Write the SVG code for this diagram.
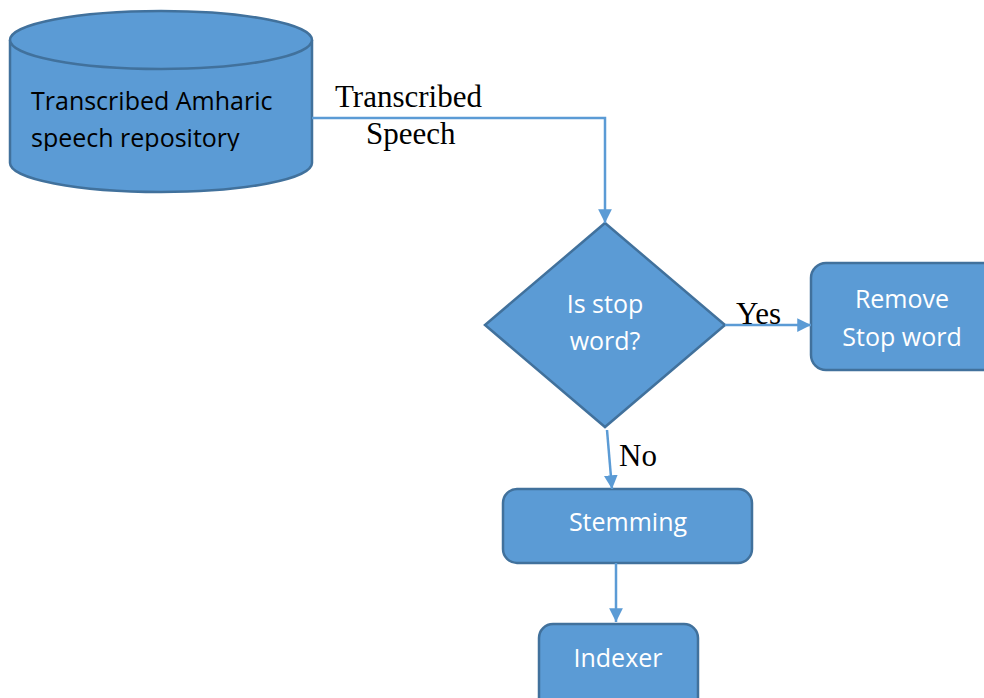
<svg xmlns="http://www.w3.org/2000/svg" width="984" height="698" viewBox="0 0 984 698">
<style>
.shape{fill:#5B9BD5;stroke:#41719C;stroke-width:2.5}
.wt{font-family:"Open Sans","Liberation Sans",sans-serif;font-size:25px;fill:#fff;text-anchor:middle}
.bt{font-family:"Open Sans","Liberation Sans",sans-serif;font-size:25px;fill:#000}
.lbl{font-family:"Liberation Serif",serif;font-size:31px;fill:#000}
.conn{fill:none;stroke:#5B9BD5;stroke-width:2.5}
</style>
<defs>
<marker id="ah" viewBox="0 0 10 10" refX="10" refY="5" markerWidth="5.5" markerHeight="5.5" orient="auto" markerUnits="strokeWidth">
<path d="M0,0 L10,5 L0,10 z" fill="#5B9BD5"/>
</marker>
<clipPath id="cl"><rect x="0" y="0" width="320" height="151"/></clipPath>
</defs>
<rect width="984" height="698" fill="#fff"/>
<g id="repository">
<path class="shape" d="M10,40 L10,163 A151,29 0 0 0 312,163 L312,40"/>
<ellipse class="shape" cx="161" cy="40" rx="151" ry="29"/>
<g clip-path="url(#cl)">
<text class="bt" x="31" y="110">Transcribed Amharic</text>
<text class="bt" x="31" y="147">speech repository</text>
</g>
</g>
<g id="decision">
<polygon class="shape" points="605,223 725,325 605,427 485,325"/>
<text class="wt" x="605" y="313">Is stop</text>
<text class="wt" x="605" y="350">word?</text>
</g>
<g id="remove">
<rect class="shape" x="811" y="263" width="190" height="107" rx="15"/>
<text class="wt" x="902" y="308">Remove</text>
<text class="wt" x="902" y="346">Stop word</text>
</g>
<g id="stemming">
<rect class="shape" x="503" y="489" width="249" height="74" rx="14"/>
<text class="wt" x="628" y="531">Stemming</text>
</g>
<g id="indexer">
<rect class="shape" x="539" y="624" width="159" height="90" rx="14"/>
<text class="wt" x="618" y="667">Indexer</text>
</g>
<g id="connectors">
<path class="conn" d="M312,118 L605,118 L605,223" marker-end="url(#ah)"/>
<path class="conn" d="M725,325 L811,325" marker-end="url(#ah)"/>
<path class="conn" d="M607,430 L612,489" marker-end="url(#ah)"/>
<path class="conn" d="M616,563 L616,622" marker-end="url(#ah)"/>
<text class="lbl" x="335" y="107">Transcribed</text>
<text class="lbl" x="366" y="144">Speech</text>
<text class="lbl" x="736" y="324">Yes</text>
<text class="lbl" x="619" y="466">No</text>
</g>
</svg>
